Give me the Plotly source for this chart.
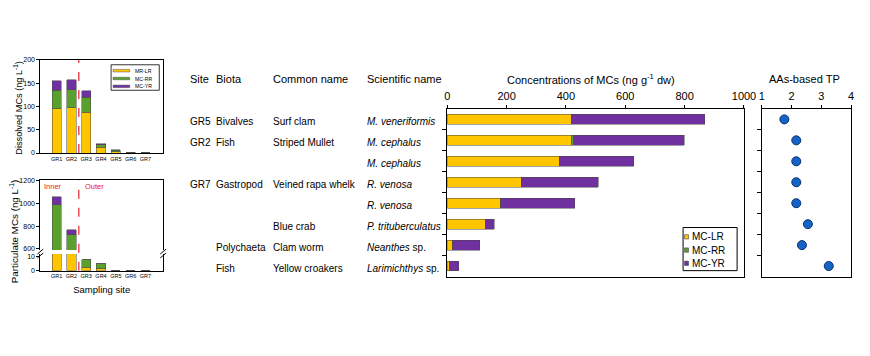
import plotly.graph_objects as go

W, H = 870, 356
FONT = "Arial, 'Liberation Sans', sans-serif"

# ---------------- data ----------------
sites = ["GR1", "GR2", "GR3", "GR4", "GR5", "GR6", "GR7"]
dis_LR = [95, 97, 88, 12, 3, 0.8, 0.3]
dis_RR = [40, 39, 32, 6, 3, 0.6, 0.2]
dis_YR = [20, 21, 14, 2, 1, 0.3, 0.1]

part_LR = [20, 20, 2.6, 1.4, 0, 0, 0]
part_RR = [965, 705, 5.2, 3.4, 0, 0, 0]
part_YR = [72, 45, 0.2, 0.2, 0, 0, 0]

legend1_names = ["MR-LR", "MC-RR", "MC-YR"]
legend2_names = ["MC-LR", "MC-RR", "MC-YR"]

row_site = ["GR5", "GR2", "", "GR7", "", "", "", ""]
row_biota = ["Bivalves", "Fish", "", "Gastropod", "", "", "Polychaeta", "Fish"]
row_common = ["Surf clam", "Striped Mullet", "", "Veined rapa whelk", "", "Blue crab",
              "Clam worm", "Yellow croakers"]
row_sci = ["<i>M. veneriformis</i>", "<i>M. cephalus</i>", "<i>M. cephalus</i>",
           "<i>R. venosa</i>", "<i>R. venosa</i>", "<i>P. trituberculatus</i>",
           "<i>Neanthes</i> sp.", "<i>Larimichthys</i> sp."]
bio_LR = [419, 418, 380, 250, 180, 129, 19, 9]
bio_RR = [0, 8, 0, 0, 0, 0, 0, 0]
bio_YR = [448, 373, 249, 259, 249, 29, 91, 30]
tp = [1.76, 2.16, 2.16, 2.16, 2.16, 2.55, 2.35, 3.25]

rows = list(range(len(row_sci)))

C_LR = "#FFC600"
C_RR = "#5AA02C"
C_YR = "#70309F"
COLORS = [C_LR, C_RR, C_YR]
RED = "#E8202A"


def fx(p):
    return p / W


def fy(p):
    return 1 - p / H


fig = go.Figure()

edge = dict(color="rgba(70,70,70,0.85)", width=0.6)

# ---------------- dissolved (top-left) ----------------
for name, vals, col in zip(legend1_names, [dis_LR, dis_RR, dis_YR], COLORS):
    fig.add_trace(go.Bar(x=sites, y=vals, name=name, marker=dict(color=col, line=edge),
                         xaxis="x", yaxis="y", showlegend=False, width=0.62))

# ---------------- particulate (bottom-left, broken axis) ----------------
for name, vals, col in zip(legend1_names, [part_LR, part_RR, part_YR], COLORS):
    fig.add_trace(go.Bar(x=sites, y=vals, name=name, marker=dict(color=col, line=edge),
                         xaxis="x2", yaxis="y2", showlegend=False, width=0.62))
    fig.add_trace(go.Bar(x=sites, y=vals, name=name, marker=dict(color=col, line=edge),
                         xaxis="x3", yaxis="y3", showlegend=False, width=0.62))

# ---------------- biota concentrations ----------------
for name, vals, col in zip(legend2_names, [bio_LR, bio_RR, bio_YR], COLORS):
    fig.add_trace(go.Bar(y=rows, x=vals, orientation="h", name=name,
                         marker=dict(color=col, line=edge), showlegend=False,
                         xaxis="x4", yaxis="y4", width=0.47))

# ---------------- TP ----------------
fig.add_trace(go.Scatter(x=tp, y=rows, mode="markers", showlegend=False, name="TP",
                         marker=dict(size=9, color="#1464C8", line=dict(color="#0B2F6E", width=1)),
                         xaxis="x5", yaxis="y5"))

axfont = dict(family=FONT, size=7, color="black")
common_ax = dict(showline=True, linecolor="black", linewidth=1, showgrid=False,
                 zeroline=False, ticks="outside", ticklen=3, tickcolor="black")
noticks = {**common_ax, "ticks": ""}
sitefont = dict(family=FONT, size=5.5, color="black")

row_ticks = [r + 0.5 for r in rows[:-1]]

fig.update_layout(
    width=W, height=H, margin=dict(l=0, r=0, t=0, b=0), autosize=False,
    paper_bgcolor="white", plot_bgcolor="white",
    font=dict(family=FONT, color="black"),
    barmode="stack", showlegend=False,
    xaxis=dict(domain=[fx(38), fx(163)], anchor="y", range=[-1.1, 7.2], mirror=True,
               tickangle=0, tickfont=sitefont, **noticks),
    yaxis=dict(domain=[fy(152), fy(57)], anchor="x", range=[0, 200], mirror=True,
               tickvals=[0, 50, 100, 150, 200], tickfont=axfont, **common_ax),
    xaxis2=dict(domain=[fx(38), fx(163)], anchor="y2", range=[-1.1, 7.2],
                tickangle=0, tickfont=sitefont, **noticks,
                title=dict(text="Sampling site", font=dict(family=FONT, size=9.5), standoff=8)),
    yaxis2=dict(domain=[fy(272), fy(255)], anchor="x2", range=[0, 12], mirror=True,
                tickvals=[0, 10], tickfont=axfont, **common_ax),
    xaxis3=dict(domain=[fx(38), fx(163)], anchor="y3", range=[-1.1, 7.2], side="top",
                matches="x2", showticklabels=False, **noticks),
    yaxis3=dict(domain=[fy(251), fy(180)], anchor="x3", range=[590, 1200], mirror=True,
                tickvals=[600, 800, 1000, 1200], tickfont=axfont, **common_ax),
    xaxis4=dict(domain=[fx(452), fx(754)], anchor="y4", range=[0, 1000], side="top", mirror=True,
                tickvals=[0, 200, 400, 600, 800, 1000], tickfont=dict(family=FONT, size=11),
                **common_ax),
    yaxis4=dict(domain=[fy(278), fy(107)], anchor="x4", range=[7.5, -0.5], mirror=True,
                tickvals=row_ticks, showticklabels=False, **{**common_ax, "ticklen": 4}),
    xaxis5=dict(domain=[fx(772), fx(863)], anchor="y5", range=[1, 4], side="top", mirror=True,
                tickvals=[1, 2, 3, 4], tickfont=dict(family=FONT, size=11), **common_ax),
    yaxis5=dict(domain=[fy(278), fy(107)], anchor="x5", range=[7.5, -0.5], mirror=True,
                tickvals=row_ticks, showticklabels=False, **{**common_ax, "ticklen": 4}),
)

ann = []


def add_text(text, x, y, size, xanchor="left", yanchor="middle", color="black", angle=0,
             yref="paper", yshift=0):
    ann.append(dict(text=text, x=fx(x), y=(fy(y) if yref == "paper" else y), xref="paper",
                    yref=yref, xanchor=xanchor, yanchor=yanchor, textangle=angle,
                    showarrow=False, yshift=yshift, font=dict(family=FONT, size=size, color=color)))


# axis titles (left panels)
add_text("Dissolved MCs (ng L<sup>-1</sup>)", 15, 106, 9.2, xanchor="center", angle=-90)
add_text("Particulate MCs (ng L<sup>-1</sup>)", 12, 232, 9.8, xanchor="center", angle=-90)
add_text("Inner", 39.5, 186, 7.5, color=RED)
add_text("Outer", 81, 186, 7.5, color=RED)

# table headers
for txt, xp in [("Site", 188), ("Biota", 215), ("Common name", 273), ("Scientific name", 368)]:
    add_text(txt, xp, 77, 11)
add_text("Concentrations of MCs (ng g<sup>-1</sup> dw)", 598, 77, 11, xanchor="center")
add_text("AAs-based TP", 816, 77, 11, xanchor="center")

# table rows
for r in rows:
    for txt, xp in [(row_site[r], 188), (row_biota[r], 215), (row_common[r], 273), (row_sci[r], 368)]:
        if txt:
            add_text(txt, xp, r, 10, yref="y4", yshift=-2)

shapes = []
# dashed inner/outer separators
shapes.append(dict(type="line", xref="x", yref="y domain", x0=1.5, x1=1.5, y0=0, y1=1,
                   line=dict(color=RED, width=1.2, dash="dash")))
shapes.append(dict(type="line", xref="x2", yref="paper", x0=1.5, x1=1.5, y0=fy(272), y1=fy(180),
                   line=dict(color=RED, width=1.2, dash="dash")))
# axis-break marks
for xb in (38, 163):
    for dy in (0, 4):
        shapes.append(dict(type="line", xref="paper", yref="paper",
                           x0=fx(xb - 3), y0=fy(255 + dy), x1=fx(xb + 3), y1=fy(250 + dy),
                           line=dict(color="black", width=1)))


def rect(x0, y0, x1, y1, fill, lc="black", lw=0.8):
    shapes.append(dict(type="rect", xref="paper", yref="paper", x0=fx(x0), x1=fx(x1),
                       y0=fy(y1), y1=fy(y0), fillcolor=fill, line=dict(color=lc, width=lw)))


# legend 1 (dissolved panel)
rect(110, 62, 159, 88, "white", lw=0.8)
for i, (name, col) in enumerate(zip(legend1_names, COLORS)):
    yc = 68 + i * 8
    rect(112, yc - 1.3, 129, yc + 1.3, col, lc="#555555", lw=0.5)
    add_text(name, 132, yc, 5.2)

# legend 2 (biota panel)
rect(692, 228, 747, 272, "white", lw=1)
for i, (name, col) in enumerate(zip(legend2_names, COLORS)):
    yc = 237.5 + i * 13.5
    rect(693.5, yc - 2.2, 697.5, yc + 2.2, col, lc="#444444", lw=0.6)
    add_text(name, 699, yc, 10)

fig.update_layout(annotations=ann, shapes=shapes)

fig.write_html(
    "out.html",
    config={"displayModeBar": False},
    post_script="document.documentElement.style.overflow='hidden';"
                "document.body.style.margin='0px';document.body.style.overflow='hidden';",
)
